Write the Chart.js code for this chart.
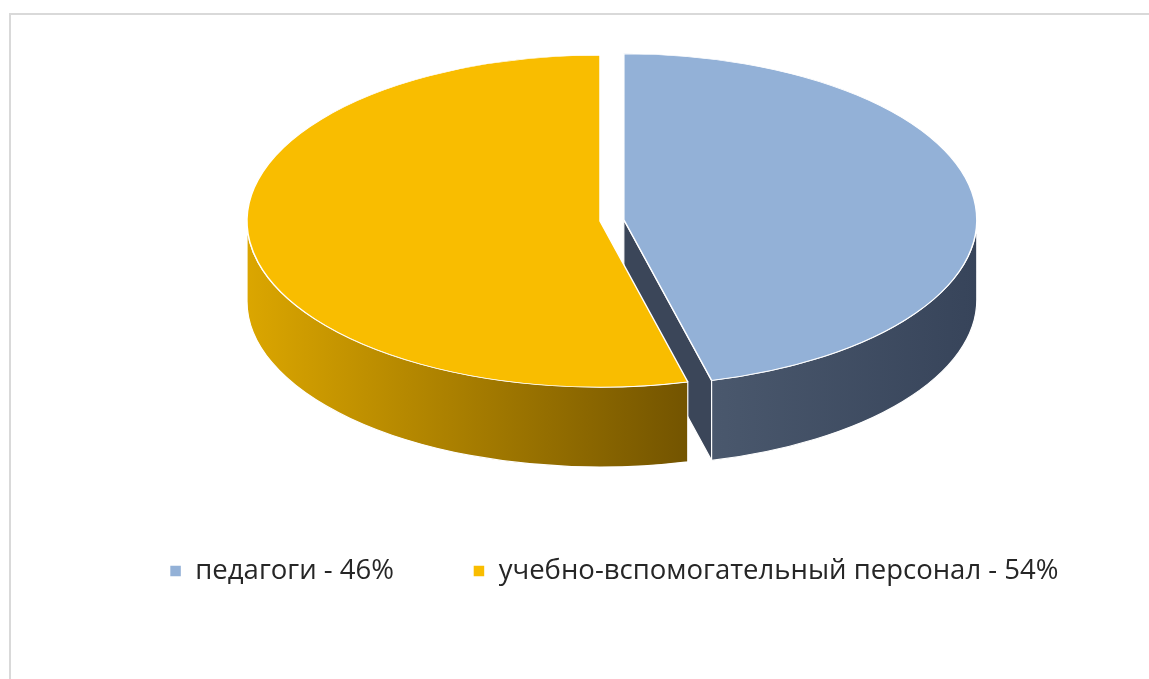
<!DOCTYPE html>
<html>
<head>
<meta charset="utf-8">
<script src="https://cdn.jsdelivr.net/npm/chart.js@4.4.1/dist/chart.umd.min.js"></script>
<style>
  html, body { margin: 0; padding: 0; background: #fff; overflow: hidden; }
  #frame {
    position: absolute; left: 9px; top: 13px; width: 1220px; height: 720px;
    border: 2px solid #d9d9d9; box-sizing: border-box;
  }
  #grafico { position: absolute; left: 0; top: -36px; }
</style>
</head>
<body>
<div id="frame"></div>
<canvas id="grafico" width="1149" height="716"></canvas>
<script>
// ============================
// Dados
// ============================
const categorias = ["педагоги - 46%", "учебно-вспомогательный персонал - 54%"];
const valores = [46, 54];
const coresTopo = ["#93B1D7", "#F9BD00"];

// ============================
// Aparência 3D
// ============================
const TILT = 0.47;        // achatamento vertical da elipse
const DEPTH = 80;         // altura da lateral
const EXPLODE = [24, 0];  // deslocamento de cada fatia
const SHIFT_X = -14;      // pizza um pouco à esquerda da legenda
const paredeClara = ["#4A586D", "#DBA600"];
const paredeEscura = ["#37445A", "#735400"];
const corCorte = ["#3B4659", "#8A6600"];

const pie3d = {
  id: "pie3d",
  beforeDatasetsDraw(chart) {
    const ctx = chart.ctx;
    const arcs = chart.getDatasetMeta(0).data;

    const fatias = arcs.map((arc, i) => {
      const mid = (arc.startAngle + arc.endAngle) / 2;
      return {
        arc, i,
        cx: arc.x + SHIFT_X + Math.cos(mid) * EXPLODE[i],
        cy: arc.y + Math.sin(mid) * EXPLODE[i] * TILT,
        r: arc.outerRadius
      };
    });

    const pt = (f, a, down) => [f.cx + f.r * Math.cos(a), f.cy + f.r * TILT * Math.sin(a) + down];

    ctx.save();
    ctx.strokeStyle = "#ffffff";
    ctx.lineWidth = 1.2;
    ctx.lineJoin = "round";

    // faces de corte visíveis
    fatias.forEach(f => {
      const faces = [];
      if (Math.cos(f.arc.endAngle) > 0.001) faces.push(f.arc.endAngle);
      if (Math.cos(f.arc.startAngle) < -0.001) faces.push(f.arc.startAngle);
      faces.forEach(a => {
        const p = pt(f, a, 0);
        const q = pt(f, a, DEPTH);
        ctx.beginPath();
        ctx.moveTo(f.cx, f.cy);
        ctx.lineTo(p[0], p[1]);
        ctx.lineTo(q[0], q[1]);
        ctx.lineTo(f.cx, f.cy + DEPTH);
        ctx.closePath();
        ctx.fillStyle = corCorte[f.i];
        ctx.fill();
        ctx.stroke();
      });
    });

    // paredes externas (metade da frente)
    fatias.forEach(f => {
      for (let k = -1; k <= 1; k++) {
        const lo = Math.max(f.arc.startAngle, 2 * Math.PI * k);
        const hi = Math.min(f.arc.endAngle, 2 * Math.PI * k + Math.PI);
        if (hi - lo <= 0.0001) continue;
        const xs = [pt(f, lo, 0)[0], pt(f, hi, 0)[0]];
        if (hi >= Math.PI + 2 * Math.PI * k - 0.0001) xs.push(f.cx - f.r);
        if (lo <= 2 * Math.PI * k + 0.0001) xs.push(f.cx + f.r);
        const x0 = Math.min(...xs), x1 = Math.max(...xs);
        const grad = ctx.createLinearGradient(x0, 0, x1, 0);
        grad.addColorStop(0, paredeClara[f.i]);
        grad.addColorStop(1, paredeEscura[f.i]);
        ctx.beginPath();
        ctx.ellipse(f.cx, f.cy, f.r, f.r * TILT, 0, lo, hi, false);
        ctx.ellipse(f.cx, f.cy + DEPTH, f.r, f.r * TILT, 0, hi, lo, true);
        ctx.closePath();
        ctx.fillStyle = grad;
        ctx.fill();
        ctx.stroke();
      }
    });
    ctx.restore();

    // topo das fatias (desenhado pelo próprio Chart.js, achatado)
    fatias.forEach(f => {
      ctx.save();
      ctx.translate(f.cx, f.cy);
      ctx.scale(1, TILT);
      ctx.translate(-f.arc.x, -f.arc.y);
      f.arc.draw(ctx);
      ctx.restore();
    });

    return false;
  }
};

// ============================
// Gráfico
// ============================
const ctx = document.getElementById("grafico").getContext("2d");
new Chart(ctx, {
  type: "pie",
  data: {
    labels: categorias,
    datasets: [{
      data: valores,
      backgroundColor: coresTopo,
      borderColor: "#ffffff",
      borderWidth: 1.5
    }]
  },
  options: {
    responsive: false,
    animation: false,
    events: [],
    radius: 353,
    layout: { padding: { left: 79, right: 0, top: 0, bottom: 85.25 } },
    plugins: {
      tooltip: { enabled: false },
      legend: {
        position: "bottom",
        labels: {
          boxWidth: 12,
          boxHeight: 12,
          padding: 79,
          color: "#262626",
          font: { family: "Open Sans", size: 27.5 }
        }
      }
    }
  },
  plugins: [pie3d]
});
</script>
</body>
</html>
